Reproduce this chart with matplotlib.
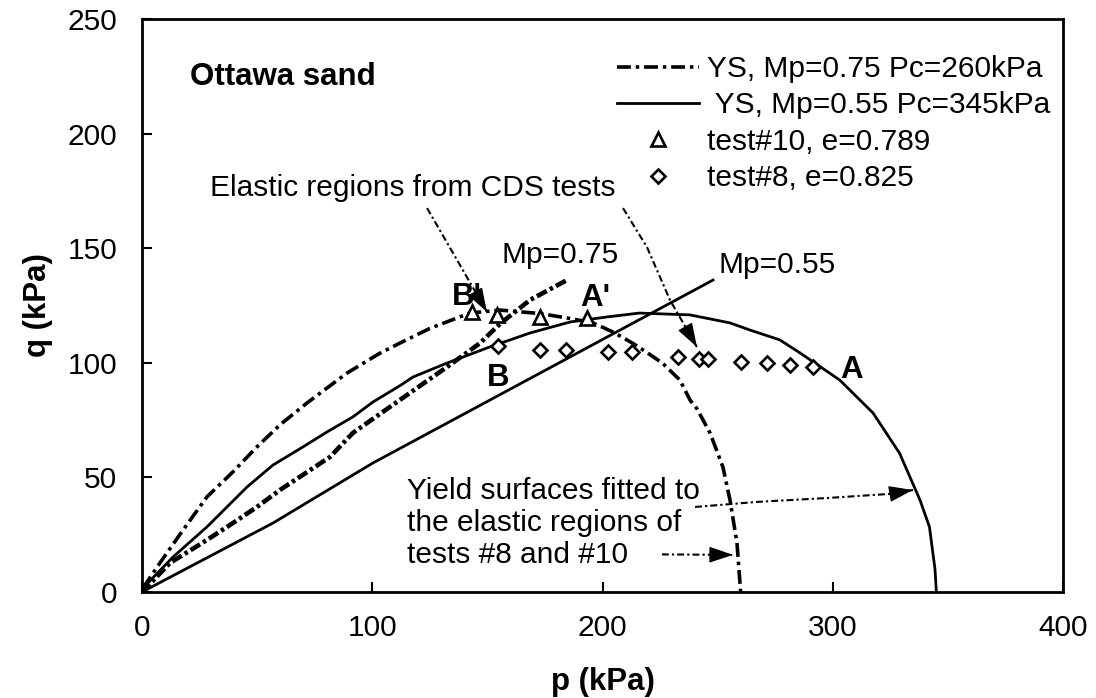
import matplotlib
matplotlib.use("Agg")
import matplotlib.pyplot as plt

plt.rcParams['font.family'] = ['Liberation Sans', 'DejaVu Sans']
plt.rcParams['lines.scale_dashes'] = False

# Yield surface, Mp=0.75, Pc=260 kPa
ys260_p = [0.4, 7.8, 17.8, 28.2, 39.5, 49.9, 59.9, 71.7, 89.0, 103.0, 112.0, 125.0,
           142.4, 155.5, 172.8, 185.0, 195.9, 204.6, 213.0, 219.0, 226.0, 233.6,
           238.0, 241.0, 246.7, 252.3, 255.4, 258.4, 260.0]
ys260_q = [1.7, 12.7, 27.0, 41.5, 52.4, 63.3, 72.9, 82.5, 95.5, 104.0, 108.6, 115.0,
           121.7, 123.0, 121.5, 119.5, 117.4, 113.4, 108.6, 104.7, 99.9, 92.5,
           83.8, 80.0, 69.4, 54.5, 40.0, 21.4, 0.0]

# Yield surface, Mp=0.55, Pc=345 kPa
ys345_p = [0.4, 13.5, 20.8, 28.2, 36.9, 45.6, 56.9, 69.9, 80.3, 91.6, 100.3, 112.0,
           117.7, 132.5, 151.0, 168.5, 185.9, 201.9, 216.0, 238.0, 255.4, 264.0,
           277.0, 285.8, 303.0, 317.5, 329.0, 337.9, 342.0, 344.4, 345.0]
ys345_q = [1.7, 15.3, 21.8, 28.4, 37.1, 45.8, 55.4, 63.3, 69.8, 76.4, 82.9, 90.0,
           93.8, 99.9, 106.9, 113.0, 117.8, 120.0, 121.7, 120.9, 117.4, 114.3,
           110.0, 104.3, 92.5, 78.1, 60.6, 40.1, 28.4, 10.0, 0.0]

# Stress-ratio lines through the origin
mp075_p = [0.0, 12.2, 28.2, 39.5, 49.9, 59.9, 81.6, 91.6, 112.0, 132.5, 146.8, 155.5, 168.5, 184.6]
mp075_q = [0.0, 12.7, 22.7, 30.1, 37.1, 44.5, 58.9, 69.4, 83.8, 98.2, 108.6, 117.0, 127.4, 136.1]
mp055_p = [0.0, 56.9, 100.3, 248.0]
mp055_q = [0.0, 30.1, 56.3, 136.1]

# Test data
t10_p = [143.3, 154.2, 172.8, 193.3]
t10_q = [122.2, 120.9, 120.0, 119.5]
t8_p = [154.5, 173.0, 184.0, 202.5, 213.0, 233.0, 242.0, 246.0, 260.0, 271.5, 281.5, 291.5]
t8_q = [107.5, 105.5, 105.5, 104.5, 104.5, 102.5, 101.5, 101.5, 100.5, 100.0, 99.0, 98.0]

# Annotation arrow paths
arrow1_p = [123.8, 136.8, 149.8]
arrow1_q = [167.5, 144.9, 122.2]
arrow2_p = [208.9, 219.3, 229.3, 241.0]
arrow2_q = [167.5, 150.5, 127.4, 106.9]
arrow3_p = [240.2, 267.0, 297.5, 324.8, 334.8]
arrow3_q = [37.1, 39.3, 41.0, 42.8, 44.5]
arrow4_p = [225.8, 256.7]
arrow4_q = [16.4, 16.2]

x_ticks = [0, 100, 200, 300, 400]
y_ticks = [0, 50, 100, 150, 200, 250]

fig = plt.figure(figsize=(10.96, 6.98), dpi=100)
ax = fig.add_axes([142 / 1096, 1 - 592 / 698, (1063 - 142) / 1096, (592 - 19) / 698])

FS = 21.5
FSB = 22.5
dashdot_ys = (0, (10, 3.5, 2.5, 3.5))
dashdot_m = (0, (8, 2.5, 2.5, 2.5))
dashdot_arrow = (0, (5, 2.2, 1.6, 2.2))

l260, = ax.plot(ys260_p, ys260_q, color='black', lw=2.6, linestyle=dashdot_ys,
                label='YS, Mp=0.75 Pc=260kPa')
l345, = ax.plot(ys345_p, ys345_q, color='black', lw=2.0, linestyle='-',
                label=' YS, Mp=0.55 Pc=345kPa')
ax.plot(mp075_p, mp075_q, color='black', lw=3.3, linestyle=dashdot_m)
ax.plot(mp055_p, mp055_q, color='black', lw=2.0, linestyle='-')

m10, = ax.plot(t10_p, t10_q, linestyle='none', marker='^', ms=9.5, mfc='white',
               mec='black', mew=1.9, label='test#10, e=0.789')
m8, = ax.plot(t8_p, t8_q, linestyle='none', marker='D', ms=7.5, mfc='white',
              mec='black', mew=1.9, label='test#8, e=0.825')


def dashed_arrow(px, qy):
    ax.plot(px, qy, color='black', lw=1.5, linestyle=dashdot_arrow)
    dx = px[-1] - px[-2]
    dy = qy[-1] - qy[-2]
    ax.annotate('', xy=(px[-1], qy[-1]),
                xytext=(px[-1] - 0.02 * dx, qy[-1] - 0.02 * dy),
                arrowprops=dict(arrowstyle='-|>,head_length=1.25,head_width=0.42',
                                color='black', lw=1.0, mutation_scale=12,
                                shrinkA=0, shrinkB=0))


for ap, aq in [(arrow1_p, arrow1_q), (arrow2_p, arrow2_q),
               (arrow3_p, arrow3_q), (arrow4_p, arrow4_q)]:
    dashed_arrow(ap, aq)

ax.text(20.8, 224.7, 'Ottawa sand', fontsize=FSB, fontweight='bold', va='center', ha='left')
ax.text(29.5, 176.3, 'Elastic regions from CDS tests', fontsize=FS, va='center', ha='left')
ax.text(115.1, 30.1, 'Yield surfaces fitted to\nthe elastic regions of\ntests #8 and #10',
        fontsize=FS, va='center', ha='left', linespacing=1.2)
ax.text(156.3, 147.0, 'Mp=0.75', fontsize=FS, va='center', ha='left')
ax.text(250.2, 142.7, 'Mp=0.55', fontsize=FS, va='center', ha='left')
ax.text(134.6, 128.7, "B'", fontsize=FSB, fontweight='bold', va='center', ha='left')
ax.text(190.2, 128.3, "A'", fontsize=FSB, fontweight='bold', va='center', ha='left')
ax.text(149.8, 93.4, 'B', fontsize=FSB, fontweight='bold', va='center', ha='left')
ax.text(303.1, 96.9, 'A', fontsize=FSB, fontweight='bold', va='center', ha='left')

ax.legend(handles=[l260, l345, m10, m8], loc='upper left',
          bbox_to_anchor=(617 / 1096, 1 - 55 / 698), bbox_transform=fig.transFigure,
          frameon=False, fontsize=FS, handlelength=2.75, handletextpad=0.28,
          labelspacing=0.28, borderpad=0, borderaxespad=0, numpoints=1)

ax.set_xlim(0, 400)
ax.set_ylim(0, 250)
ax.set_xticks(x_ticks)
ax.set_yticks(y_ticks)
ax.tick_params(direction='in', length=7, width=1.5, labelsize=FS,
               top=False, right=False)
ax.tick_params(axis='x', pad=16)
ax.tick_params(axis='y', pad=18)
for s in ax.spines.values():
    s.set_linewidth(2.0)

ax.set_xlabel('p (kPa)', fontsize=FSB, fontweight='bold', labelpad=18)
ax.set_ylabel('q (kPa)', fontsize=FSB, fontweight='bold', labelpad=10)

fig.savefig('out.png', dpi=100)
